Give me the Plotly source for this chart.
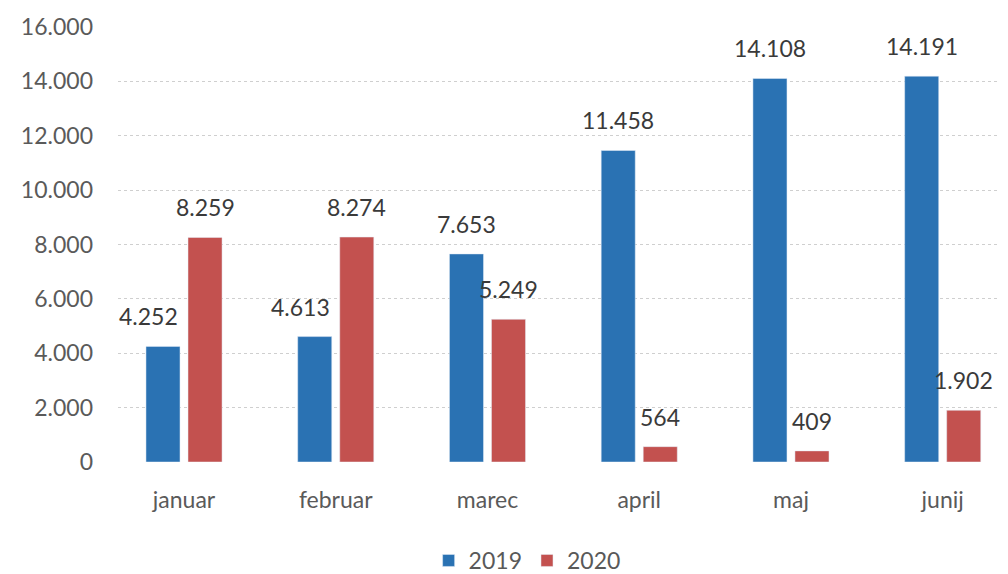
import plotly.graph_objects as go

months = ["januar", "februar", "marec", "april", "maj", "junij"]
y2019 = [4252, 4613, 7653, 11458, 14108, 14191]
y2020 = [8259, 8274, 5249, 564, 409, 1902]
tick_vals = [0, 2000, 4000, 6000, 8000, 10000, 12000, 14000, 16000]
tick_text = ["0", "2.000", "4.000", "6.000", "8.000", "10.000", "12.000", "14.000", "16.000"]


def fmt(v):
    return f"{v:,}".replace(",", ".")


FONT = "Lato, 'Open Sans', sans-serif"
BARGAP = 0.446
GROUPGAP = 0.19
COLORS = {"2019": "#2a72b3", "2020": "#c3514f"}

fig = go.Figure()
for name, vals in (("2019", y2019), ("2020", y2020)):
    fig.add_trace(go.Bar(name=name, x=months, y=vals, marker_color=COLORS[name]))

# data labels above each bar, placed through the axis scales
half = (1 - BARGAP) / 4
annotations = []
for k, vals in enumerate((y2019, y2020)):
    side = -1 if k == 0 else 1
    for i, v in enumerate(vals):
        xshift = 0
        # the first two 2019 labels sit to the left, clear of the taller 2020 bars
        if k == 0 and i < 2:
            xshift = -14
        annotations.append(dict(
            x=i + side * half, y=v, xref="x", yref="y", text=fmt(v),
            showarrow=False, yanchor="middle", yshift=30, xshift=xshift,
            font=dict(size=23, color="#3a3a3a", family=FONT),
        ))

fig.update_layout(
    width=1008, height=574,
    barmode="group", bargap=BARGAP, bargroupgap=GROUPGAP,
    paper_bgcolor="white", plot_bgcolor="white",
    margin=dict(l=110, r=0, t=19, b=120),
    font=dict(family=FONT, color="#595959", size=20),
    annotations=annotations,
    legend=dict(orientation="h", xref="container", yref="container",
                x=0.515, xanchor="center", y=-0.012, yanchor="bottom",
                font=dict(size=23, color="#595959"),
                traceorder="normal"),
    showlegend=True,
)
fig.update_yaxes(range=[0, 16000], tickvals=tick_vals, ticktext=tick_text,
                 showgrid=True, gridcolor="#cfcfcf", griddash="dot", gridwidth=1,
                 zeroline=False, showline=False, ticks="", ticklabelstandoff=24,
                 tickfont=dict(size=23, color="#5a5a5a"))
fig.update_xaxes(range=[-0.435, 5.483], showline=False,
                 ticks="", ticklabelstandoff=22,
                 tickfont=dict(size=23, color="#5a5a5a"))
fig.write_html("out.html")
